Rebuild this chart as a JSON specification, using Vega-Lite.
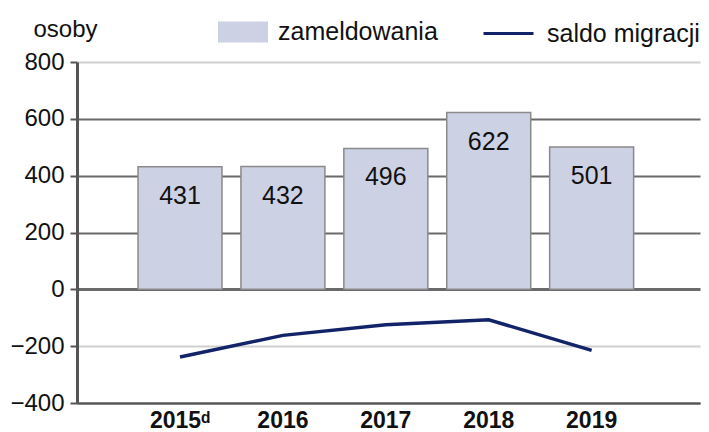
{
  "$schema": "https://vega.github.io/schema/vega-lite/v6.json",
  "width": 623,
  "height": 341,
  "autosize": "none",
  "padding": {"left": 77, "top": 62, "right": 9, "bottom": 29},
  "background": "white",
  "config": {
    "view": {"stroke": null},
    "font": "Liberation Sans",
    "axis": {"labelFont": "Liberation Sans", "titleFont": "Liberation Sans"}
  },
  "data": {
    "values": [
      {"rok": "2015ᵈ", "zameldowania": 431, "saldo": -238},
      {"rok": "2016", "zameldowania": 432, "saldo": -162},
      {"rok": "2017", "zameldowania": 496, "saldo": -125},
      {"rok": "2018", "zameldowania": 622, "saldo": -107},
      {"rok": "2019", "zameldowania": 501, "saldo": -215}
    ]
  },
  "encoding": {
    "x": {
      "field": "rok",
      "type": "ordinal",
      "sort": null,
      "scale": {"paddingInner": 0.184, "paddingOuter": 0.619, "align": 0.479},
      "axis": {
        "title": null,
        "labelAngle": 0,
        "labelFontSize": 23,
        "labelFontWeight": "bold",
        "labelColor": "#111",
        "labelPadding": 6,
        "ticks": false,
        "domainColor": "#555",
        "domainWidth": 2,
        "zindex": 0
      }
    }
  },
  "layer": [
    {
      "mark": {"type": "bar", "stroke": "#8a8a8a", "strokeWidth": 1.5},
      "encoding": {
        "y": {
          "field": "zameldowania",
          "type": "quantitative",
          "scale": {"domain": [-400, 800], "nice": false},
          "axis": {
            "values": [-400, -200, 0, 200, 400, 600, 800],
            "title": "osoby",
            "titleAngle": 0,
            "titleFontSize": 24,
            "titleFontWeight": "normal",
            "titleColor": "#111",
            "titleAlign": "left",
            "titleBaseline": "middle",
            "titleX": -44,
            "titleY": -33,
            "labelFontSize": 24,
            "labelColor": "#111",
            "labelPadding": 6,
            "tickSize": 7,
            "tickColor": "#555",
            "tickWidth": 2,
            "domainColor": "#555",
            "domainWidth": 3,
            "grid": true,
            "gridColor": {"condition": {"test": "datum.value === 800 || datum.value === -200", "value": "#cfcfcf"}, "value": "#6a6a6a"},
            "gridWidth": {"condition": {"test": "datum.value === 0", "value": 3}, "value": 2},
            "zindex": 0
          }
        },
        "fill": {
          "datum": "zameldowania",
          "type": "nominal",
          "scale": {"range": ["#cdd1e4"]},
          "legend": {
            "orient": "none",
            "legendX": 141,
            "legendY": -55,
            "title": null,
            "symbolType": "M-1,-0.42H1V0.42H-1Z",
            "symbolSize": 2500,
            "symbolStrokeColor": "#cdd1e4",
            "symbolStrokeWidth": 0,
            "labelFontSize": 25,
            "labelColor": "#111",
            "labelOffset": 10,
            "labelFont": "Liberation Sans"
          }
        }
      }
    },
    {
      "mark": {"type": "text", "baseline": "middle", "dy": 29, "fontSize": 25, "color": "#111"},
      "encoding": {
        "y": {"field": "zameldowania", "type": "quantitative"},
        "text": {"field": "zameldowania", "type": "quantitative"}
      }
    },
    {
      "mark": {"type": "line", "strokeWidth": 3.5},
      "encoding": {
        "y": {"field": "saldo", "type": "quantitative"},
        "stroke": {
          "datum": "saldo migracji",
          "type": "nominal",
          "scale": {"range": ["#13236a"]},
          "legend": {
            "orient": "none",
            "legendX": 405,
            "legendY": -55,
            "title": null,
            "symbolType": "stroke",
            "symbolSize": 2500,
            "symbolStrokeWidth": 3,
            "labelFontSize": 25,
            "labelColor": "#111",
            "labelOffset": 12,
            "labelFont": "Liberation Sans"
          }
        }
      }
    }
  ]
}
